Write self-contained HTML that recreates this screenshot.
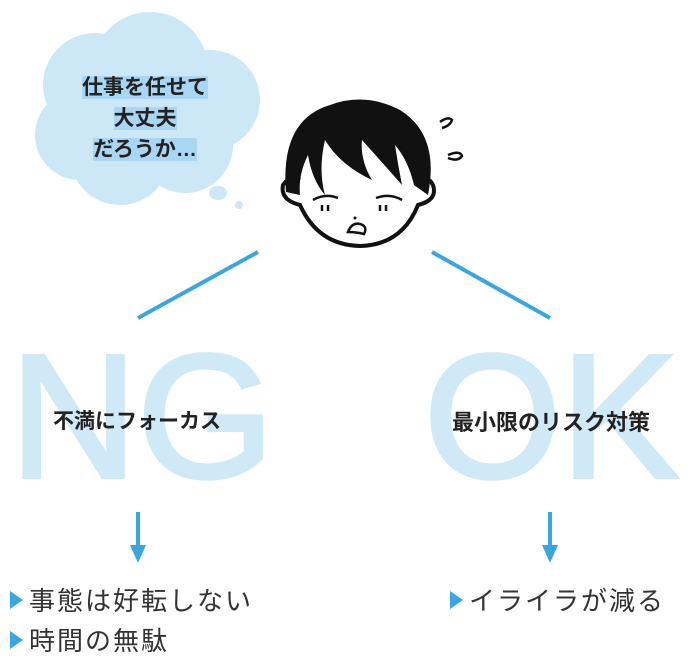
<!DOCTYPE html>
<html><head><meta charset="utf-8"><style>
body{margin:0;width:693px;height:665px;background:#fff;position:relative;overflow:hidden;font-family:"Liberation Sans","Noto Sans CJK JP",sans-serif}
.big{position:absolute;top:317px;font-size:176px;line-height:200px;color:#cfe9f7;font-family:"Liberation Sans",sans-serif;-webkit-text-stroke:4px #cfe9f7;letter-spacing:0px}
.lbl{position:absolute;font-weight:bold;color:#222;font-size:21px;white-space:nowrap}
.b{position:absolute;font-size:26px;color:#333;letter-spacing:2px;white-space:nowrap;line-height:30px}
.tri{display:inline-block;width:0;height:0;border-left:13px solid #3aa6e0;border-top:9px solid transparent;border-bottom:9px solid transparent;margin-right:6px;vertical-align:1px}
.cl{position:absolute;font-weight:bold;color:#222;font-size:21px;text-align:center;width:220px;line-height:31px}
</style></head><body>
<div class="big" style="left:10px">NG</div>
<div class="big" style="left:424px">OK</div>
<svg width="693" height="665" style="position:absolute;left:0;top:0">
<g fill="#cce8f6">
<circle cx="150" cy="70" r="58"/><circle cx="95" cy="85" r="52"/><circle cx="80" cy="135" r="45"/><circle cx="120" cy="155" r="50"/><circle cx="185" cy="145" r="48"/><circle cx="210" cy="100" r="50"/><circle cx="150" cy="115" r="60"/>
<ellipse cx="218" cy="193" rx="9" ry="7"/><circle cx="239" cy="205" r="4"/>
</g>
<g stroke="#3aa6e0" stroke-width="4" fill="none">
<line x1="258" y1="252" x2="138" y2="318"/><line x1="432" y1="252" x2="550" y2="318"/>
<line x1="138" y1="512" x2="138" y2="548"/><line x1="550" y1="512" x2="550" y2="548"/>
</g>
<g fill="#3aa6e0"><polygon points="130,545 146,545 138,563"/><polygon points="542,545 558,545 550,563"/></g>
<g stroke="#111" stroke-width="4" fill="#fff">
<path d="M300 180 Q290 175 283 185 Q280 200 300 205 Q318 245 360 246 Q402 245 418 205 Q438 200 433 185 Q428 175 416 180"/>
</g>
<path d="M286 192 Q280 120 330 105 Q365 92 400 110 Q440 135 428 195 L414 185 Q408 160 395 145 Q398 165 402 185 Q380 160 362 140 Q360 160 372 180 Q340 165 325 140 Q318 170 325 195 Q312 180 308 155 Q298 175 300 195 Z" fill="#111"/>
<g stroke="#111" stroke-width="2.5" fill="none">
<path d="M313 200 Q325 193 338 198"/><path d="M376 198 Q390 193 402 200"/>
<path d="M322 205 v6"/><path d="M328 205 v6"/><path d="M380 205 v6"/><path d="M386 205 v6"/>
<path d="M348 232 Q352 222 360 224 Q368 226 364 234 Q356 232 348 232 Z"/>
<path d="M440 122 Q448 116 452 120 Q450 126 442 128"/><path d="M448 155 Q460 150 462 156 Q458 162 448 158"/>
</g>
<circle cx="355" cy="218" r="1.5" fill="#111"/>
</svg>
<div class="cl" style="left:35px;top:72px"><span style="background:#a9d6f2">仕事を任せて</span><br><span style="background:#a9d6f2">大丈夫</span><br><span style="background:#a9d6f2">だろうか…</span></div>
<div class="lbl" style="left:53px;top:405px">不満にフォーカス</div>
<div class="lbl" style="left:452px;top:405px;font-size:22px">最小限のリスク対策</div>
<div class="b" style="left:10px;top:586px"><span class="tri"></span>事態は好転しない</div>
<div class="b" style="left:10px;top:626px"><span class="tri"></span>時間の無駄</div>
<div class="b" style="left:450px;top:586px"><span class="tri"></span>イライラが減る</div>
</body></html>
